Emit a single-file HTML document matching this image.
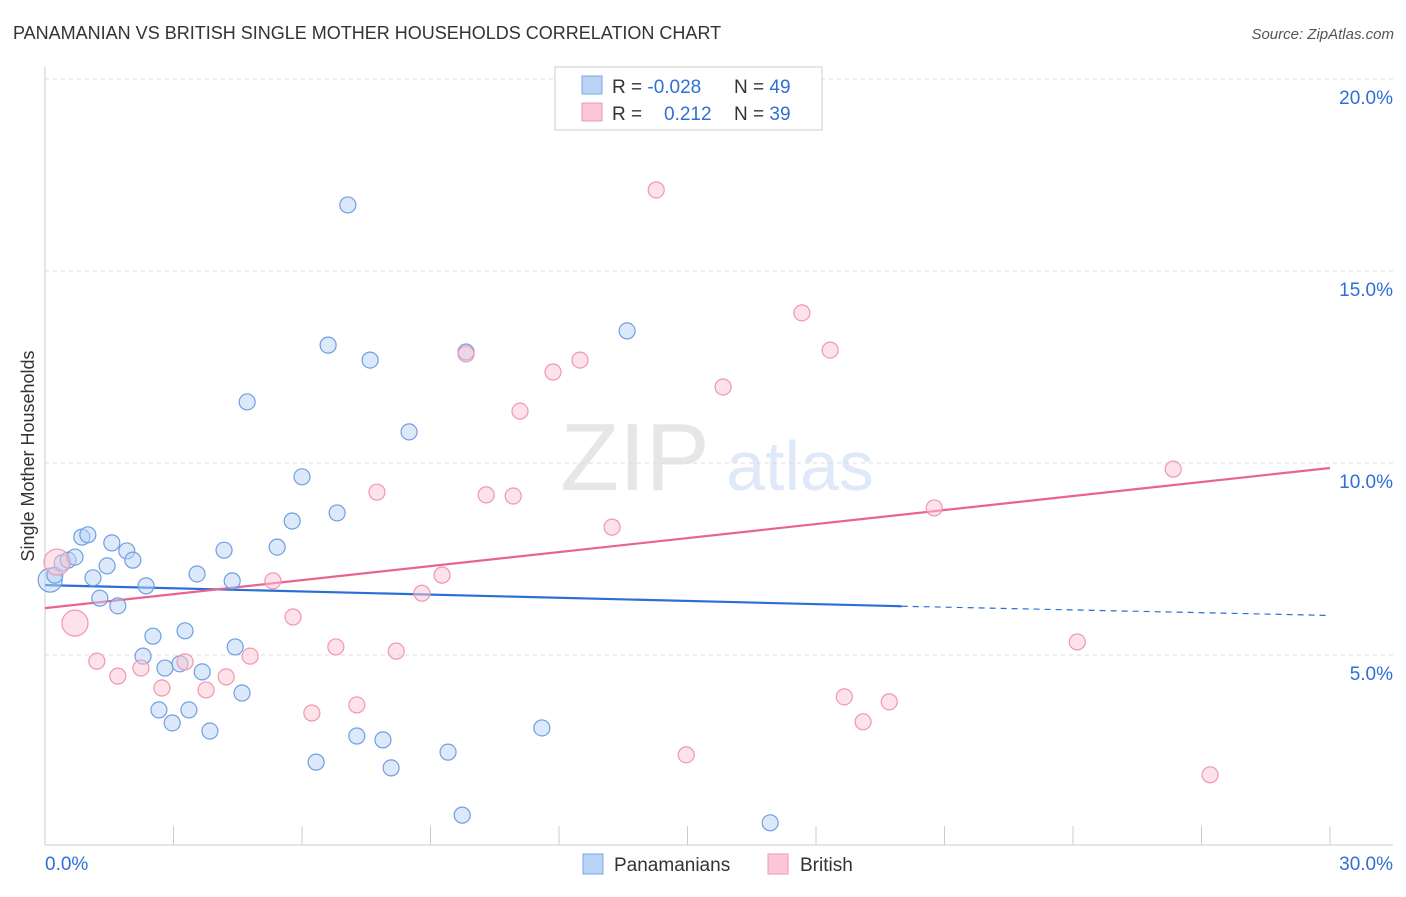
<!DOCTYPE html>
<html><head><meta charset="utf-8"><style>
body{margin:0;background:#fff;font-family:"Liberation Sans",sans-serif;}
svg text{font-family:"Liberation Sans",sans-serif;}
</style></head><body>
<svg id="chart" width="1406" height="892" xmlns="http://www.w3.org/2000/svg">
<text x="13" y="39" font-size="18" fill="#333">PANAMANIAN VS BRITISH SINGLE MOTHER HOUSEHOLDS CORRELATION CHART</text>
<text x="1394" y="39" font-size="15" fill="#555" font-style="italic" text-anchor="end">Source: ZipAtlas.com</text>
<text x="34" y="456" font-size="18" fill="#333" text-anchor="middle" transform="rotate(-90 34 456)">Single Mother Households</text>
<g><text x="635" y="490" font-size="96" fill="#e6e6e6" font-family="Liberation Serif" text-anchor="middle">ZIP</text><text x="800" y="490" font-size="70" fill="#dfe9f7" text-anchor="middle">atlas</text></g>
<g id="grid"></g><g id="axes"></g><g id="trends"></g><g id="points"></g>
<g>
<rect x="555" y="67" width="267" height="63" fill="#fff" stroke="#ccc"/>
<rect x="582" y="76" width="20" height="18" fill="#b8d3f5" stroke="#7aa8e8"/>
<rect x="582" y="103" width="20" height="18" fill="#fbc6d5" stroke="#ef9ab4"/>
<text x="612" y="93" font-size="19" fill="#333">R = <tspan fill="#2f6fd6">-0.028</tspan><tspan x="734">N = </tspan><tspan fill="#2f6fd6">49</tspan></text>
<text x="612" y="120" font-size="19" fill="#333">R = <tspan x="664" fill="#2f6fd6">0.212</tspan><tspan x="734">N = </tspan><tspan fill="#2f6fd6">39</tspan></text>
</g>
<g>
<rect x="583" y="854" width="20" height="20" fill="#b8d3f5" stroke="#7aa8e8"/>
<text x="614" y="871" font-size="19" fill="#333">Panamanians</text>
<rect x="768" y="854" width="20" height="20" fill="#fbc6d5" stroke="#ef9ab4"/>
<text x="800" y="871" font-size="19" fill="#333">British</text>
</g>
</svg>
<script>
const yTicks=[5,10,15,20];
const yTickLabels=["5.0%","10.0%","15.0%","20.0%"];
const xEndLabels=["0.0%","30.0%"];
const blueX=[0.12,0.23,0.40,0.54,0.70,0.86,1.00,1.12,1.28,1.45,1.56,1.70,1.91,2.05,2.36,2.29,2.52,2.66,2.80,2.97,3.15,3.27,3.36,3.55,3.67,3.85,4.18,4.37,4.44,4.60,4.72,5.42,5.77,6.00,6.33,6.61,6.82,7.07,7.28,7.59,7.89,8.08,8.50,9.41,9.74,9.83,11.60,13.59,16.93];
const blueY=[6.95,7.08,7.40,7.47,7.55,8.07,8.13,7.01,6.48,7.32,7.92,6.28,7.71,7.47,6.80,4.97,5.49,3.57,4.66,3.23,4.77,5.63,3.57,7.11,4.56,3.02,7.73,6.93,5.21,4.01,11.59,7.81,8.49,9.64,2.21,13.07,8.70,16.72,2.89,12.68,2.79,2.06,10.81,2.47,0.83,12.89,3.10,13.44,0.63];
const pinkX=[0.28,0.70,1.21,1.70,2.24,2.73,3.27,3.76,4.23,4.79,5.32,5.79,6.23,6.79,7.28,7.75,8.20,8.80,9.27,9.83,10.30,10.93,11.09,11.86,12.49,13.24,14.27,14.97,15.83,17.67,18.33,18.66,19.10,19.71,20.76,24.10,26.34,27.20];
const pinkY=[7.42,5.83,4.84,4.45,4.66,4.14,4.82,4.09,4.43,4.97,6.93,5.99,3.49,5.21,3.70,9.24,5.10,6.61,7.08,12.84,9.17,9.14,11.35,12.37,12.68,8.33,17.11,2.40,11.98,13.91,12.94,3.91,3.26,3.78,8.83,5.34,9.84,1.88];
const blueTrend=[6.82,6.27,6.03];
const pinkTrend=[6.22,9.87];
const NS="http://www.w3.org/2000/svg";
const xs=v=>45+v*(1285/30), ys=v=>847-v*38.4;
function mk(t,a,p){const e=document.createElementNS(NS,t);for(const k in a)e.setAttribute(k,a[k]);p.appendChild(e);return e;}
const g=document.getElementById('grid'),ax=document.getElementById('axes'),tr=document.getElementById('trends'),pt=document.getElementById('points');
yTicks.forEach((v,i)=>{
 const l=mk('line',{x1:45,x2:1393,y1:ys(v),y2:ys(v),stroke:'#ddd','stroke-dasharray':'4,4'},g);
 
 
 const t=mk('text',{x:1393,y:ys(v)+25,'font-size':19,fill:'#2f6fd6','text-anchor':'end'},g);t.textContent=yTickLabels[i];
 
 
});
const xl=mk('line',{x1:45,x2:1393,y1:845,y2:845,stroke:'#ccc'},ax);


const yl=mk('line',{x1:45,x2:45,y1:67,y2:845,stroke:'#ccc'},ax);


for(let v=3;v<=30;v+=3){const tk=mk('line',{x1:xs(v),x2:xs(v),y1:826,y2:845,stroke:'#ccc'},ax);
 
 }
[[0,'start',45],[30,'end',1393]].forEach((d,i)=>{const t=mk('text',{x:d[2],y:870,'font-size':19,fill:'#2f6fd6','text-anchor':d[1]},ax);t.textContent=xEndLabels[i];
 
 });
function dot(x,y,r,f,s,n){const c=mk('circle',{cx:xs(x),cy:ys(y),r:r,fill:f,'fill-opacity':0.5,stroke:s,'stroke-width':1.2},pt);
 
 }
blueX.forEach((x,i)=>dot(x,blueY[i],i==0?12:8,'#b8d3f5','#6f9fe0','panamanian-point'));
pinkX.forEach((x,i)=>dot(x,pinkY[i],i<2?13:8,'#fbc6d5','#ee97b1','british-point'));
const b1=mk('line',{x1:xs(0),y1:ys(blueTrend[0]),x2:xs(20),y2:ys(blueTrend[1]),stroke:'#2a6fd6','stroke-width':2.2},tr);


const b2=mk('line',{x1:xs(20),y1:ys(blueTrend[1]),x2:xs(30),y2:ys(blueTrend[2]),stroke:'#2a6fd6','stroke-width':1.2,'stroke-dasharray':'6,5'},tr);


const p1=mk('line',{x1:xs(0),y1:ys(pinkTrend[0]),x2:xs(30),y2:ys(pinkTrend[1]),stroke:'#e8648f','stroke-width':2.2},tr);


</script>
</body></html>
